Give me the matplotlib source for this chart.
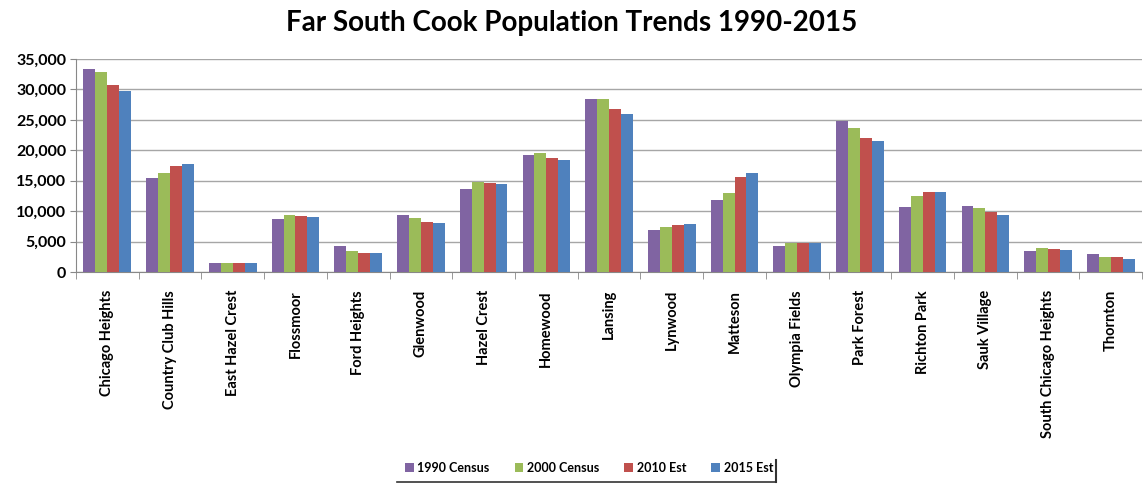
import matplotlib
matplotlib.use("Agg")
import matplotlib.pyplot as plt
import numpy as np

plt.rcParams["font.family"] = ["Lato", "DejaVu Sans"]

towns = ["Chicago Heights", "Country Club Hills", "East Hazel Crest", "Flossmoor",
         "Ford Heights", "Glenwood", "Hazel Crest", "Homewood", "Lansing", "Lynwood",
         "Matteson", "Olympia Fields", "Park Forest", "Richton Park", "Sauk Village",
         "South Chicago Heights", "Thornton"]
census_1990 = [33300, 15500, 1500, 8700, 4300, 9400, 13600, 19200, 28500, 6900,
               11900, 4200, 24900, 10700, 10800, 3500, 3000]
census_2000 = [32900, 16300, 1500, 9300, 3500, 8900, 14800, 19500, 28500, 7400,
               13000, 4700, 23600, 12500, 10500, 3900, 2500]
est_2010 = [30800, 17500, 1400, 9200, 3200, 8300, 14600, 18800, 26800, 7700,
            15600, 4700, 22000, 13100, 9800, 3800, 2400]
est_2015 = [29700, 17700, 1400, 9000, 3100, 8000, 14400, 18400, 26000, 7900,
            16300, 4700, 21600, 13200, 9400, 3600, 2200]

series = [("1990 Census", census_1990, "#8064A2"),
          ("2000 Census", census_2000, "#9BBB59"),
          ("2010 Est", est_2010, "#C0504D"),
          ("2015 Est", est_2015, "#4F81BD")]

fig = plt.figure(figsize=(11.44, 4.84), dpi=100, facecolor="white")
ax = fig.add_axes([0.0664, 0.438, 0.932, 0.44])

x = np.arange(len(towns))
w = 0.19
for i, (name, vals, col) in enumerate(series):
    ax.bar(x + (i - 1.5) * w, vals, width=w, color=col, label=name, zorder=3)

ax.set_xlim(-0.5, len(towns) - 0.5)
ax.set_ylim(0, 35000)
ax.set_yticks(np.arange(0, 35001, 5000))
ax.set_yticklabels([f"{v:,}" for v in range(0, 35001, 5000)],
                   fontsize=11.5, fontweight="bold")
ax.yaxis.grid(True, color="#a6a6a6", linewidth=1, zorder=0)

ax.set_xticks(x)
ax.set_xticklabels(towns, rotation=90, fontsize=10.5, fontweight="bold")
ax.set_xticks(np.arange(-0.5, len(towns)), minor=True)
ax.tick_params(axis="x", which="major", length=0, pad=13)
ax.tick_params(axis="x", which="minor", length=5, color="#888888")
ax.tick_params(axis="y", length=4, color="#888888", pad=3)

for s in ["top", "right"]:
    ax.spines[s].set_visible(False)
for s in ["left", "bottom"]:
    ax.spines[s].set_color("#888888")

fig.text(0.5, 0.953, "Far South Cook Population Trends 1990-2015",
         ha="center", va="center", fontsize=20, fontweight="bold")

leg = fig.legend(loc="center", bbox_to_anchor=(0.515, 0.033), ncol=4,
                 frameon=False, handlelength=0.7, handleheight=0.7,
                 columnspacing=2.0, handletextpad=0.3,
                 prop={"weight": "bold", "size": 9})

# legend box edge, bottom and right only
fig.add_artist(plt.Line2D([0.347, 0.678], [0.004, 0.004], color="#333333", lw=1.2))
fig.add_artist(plt.Line2D([0.678, 0.678], [0.004, 0.05], color="#333333", lw=1.5))

fig.savefig("out.png", dpi=100, facecolor="white")
